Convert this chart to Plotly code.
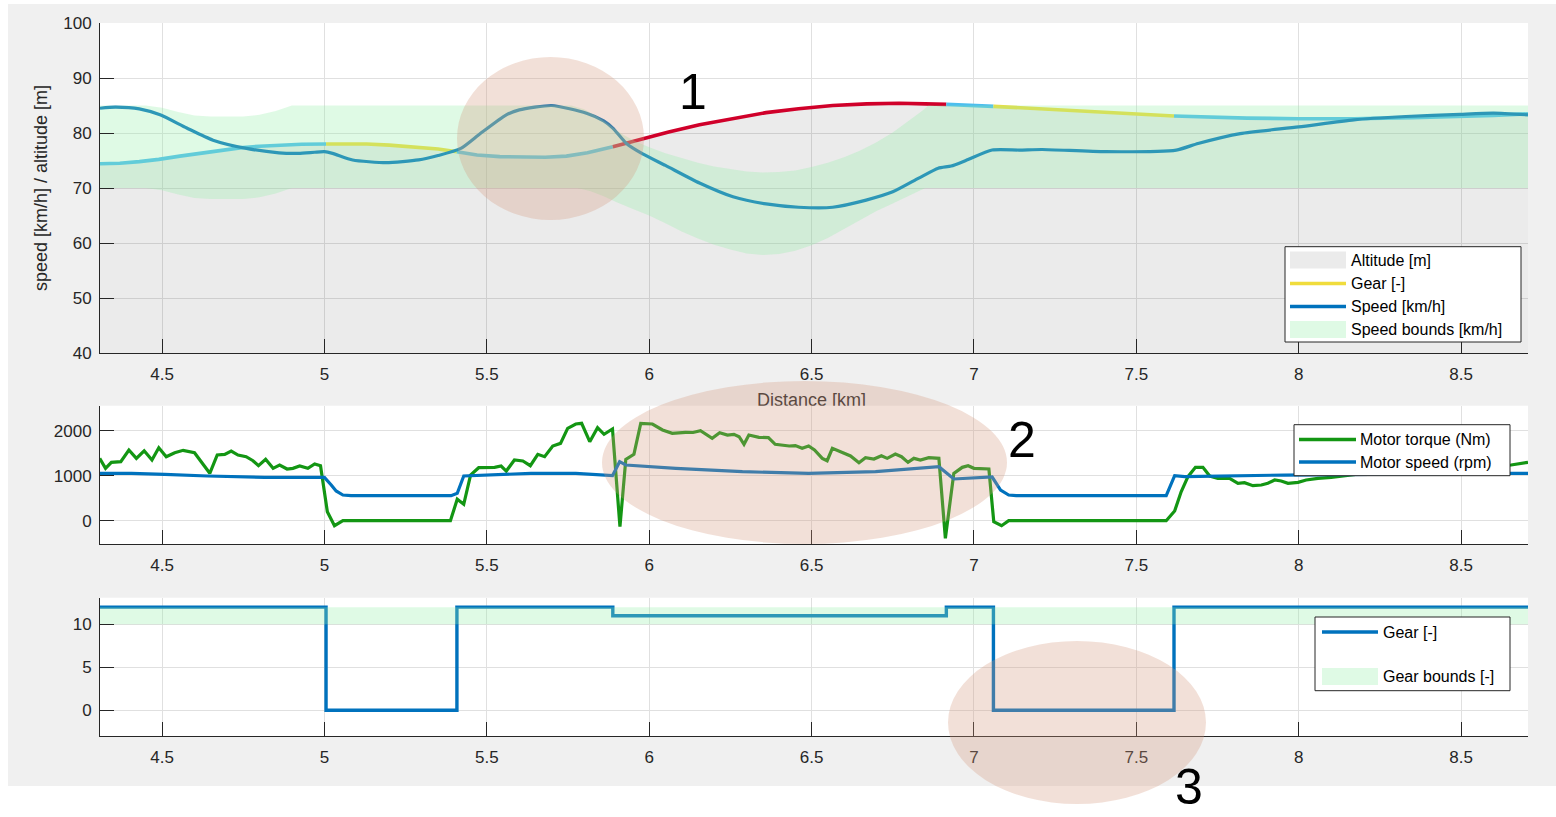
import numpy as np
import plotly.graph_objects as go

W, H = 1556, 817

# ---------------- data ----------------
x_tick_vals = [4.5, 5, 5.5, 6, 6.5, 7, 7.5, 8, 8.5]
x_tick_text = ["4.5", "5", "5.5", "6", "6.5", "7", "7.5", "8", "8.5"]
x_range = [4.309, 8.706]

# gear schedule (step changes along the route)
gear_km = [4.309, 5.005, 5.408, 5.888, 6.915, 7.06, 7.616, 8.706]
gear_val = [12, 0, 12, 11, 12, 0, 12, 12]
gear_bound_km = [4.309, 8.706]
gear_lower = [10, 10]
gear_upper = [12, 12]

# road altitude [m]
alt_km = [4.309, 4.37, 4.43, 4.49, 4.555, 4.615, 4.68, 4.74, 4.80, 4.86, 4.93,
          5.005, 5.07, 5.13, 5.20, 5.28, 5.35, 5.408, 5.47, 5.54, 5.60, 5.68,
          5.745, 5.81, 5.888, 5.94, 5.98, 6.06, 6.155, 6.26, 6.36, 6.46, 6.565,
          6.67, 6.77, 6.85, 6.915, 6.98, 7.06, 7.2, 7.35, 7.5, 7.616, 7.75,
          7.84, 8.0, 8.17, 8.35, 8.5, 8.6, 8.706]
alt_m = [74.4, 74.5, 74.8, 75.2, 75.8, 76.3, 76.9, 77.3, 77.6, 77.8, 77.95,
         78.0, 78.0, 78.0, 77.8, 77.5, 77.1, 76.6, 76.0, 75.7, 75.6, 75.6,
         75.8, 76.4, 77.5, 78.3, 79.0, 80.2, 81.5, 82.7, 83.7, 84.4, 85.0,
         85.3, 85.4, 85.3, 85.2, 85.0, 84.85, 84.4, 84.0, 83.5, 83.1, 82.8,
         82.7, 82.6, 82.6, 82.8, 83.0, 83.2, 83.5]

# vehicle speed [km/h]
speed_km = [4.309, 4.356, 4.43, 4.494, 4.576, 4.657, 4.76, 4.86, 4.92, 4.97,
            5.0, 5.025, 5.087, 5.19, 5.29, 5.35, 5.42, 5.48, 5.56, 5.60, 5.70,
            5.807, 5.86, 5.888, 5.93, 5.98, 6.05, 6.155, 6.258, 6.36, 6.46,
            6.565, 6.668, 6.75, 6.83, 6.89, 6.93, 6.975, 7.056, 7.14, 7.21,
            7.405, 7.623, 7.69, 7.82, 8.0, 8.17, 8.33, 8.497, 8.6, 8.706]
speed_kmh = [84.5, 84.7, 84.4, 83.3, 80.9, 78.7, 77.2, 76.4, 76.3, 76.5,
             76.6, 76.3, 75.1, 74.6, 75.1, 75.9, 77.2, 79.9, 83.3, 84.2, 85.0,
             83.6, 82.2, 80.9, 78.1, 76.2, 74.1, 70.9, 68.4, 67.1, 66.5,
             66.5, 67.8, 69.3, 71.8, 73.6, 74.0, 75.0, 76.9, 76.9, 77.0,
             76.6, 76.9, 78.1, 79.9, 81.1, 82.4, 83.0, 83.4, 83.6, 83.3]

# speed bounds [km/h]
bound_up_km = [4.309, 4.45, 4.5, 4.55, 4.6, 4.65, 4.75, 4.8, 4.85, 4.88, 4.9,
               5.76, 5.80, 5.84, 5.88, 5.92, 5.96, 6.0, 6.05, 6.1, 6.15, 6.2,
               6.25, 6.3, 6.35, 6.4, 6.45, 6.5, 6.55, 6.6, 6.65, 6.7, 6.75,
               6.8, 6.84, 6.86, 8.706]
bound_up = [85, 85, 84.6, 83.8, 83.2, 83.0, 83.0, 83.3, 84.0, 84.6, 85,
            85, 84.3, 83.0, 81.3, 79.7, 78.4, 77.4, 76.3, 75.4, 74.6, 73.9,
            73.4, 73.0, 72.8, 72.9, 73.2, 73.8, 74.6, 75.6, 76.8, 78.3, 80.1,
            82.2, 84.0, 85, 85]
bound_lo_km = [4.309, 4.45, 4.5, 4.55, 4.6, 4.65, 4.75, 4.8, 4.85, 4.88, 4.9,
               5.78, 5.82, 5.86, 5.9, 5.95, 6.0, 6.05, 6.1, 6.15, 6.2, 6.25,
               6.3, 6.35, 6.4, 6.45, 6.5, 6.55, 6.6, 6.65, 6.7, 6.75, 6.8,
               6.85, 8.706]
bound_lo = [70, 70, 69.6, 68.8, 68.2, 68.0, 68.0, 68.3, 69.0, 69.6, 70,
            70, 69.4, 68.5, 67.4, 66.2, 65.0, 63.6, 62.1, 60.8, 59.7, 58.8,
            58.1, 57.8, 58.0, 58.6, 59.6, 60.9, 62.5, 64.2, 65.8, 67.2, 68.6,
            70, 70]

# motor torque [Nm]
torque_km = [4.308, 4.326, 4.344, 4.373, 4.398, 4.421, 4.445, 4.469, 4.49, 4.513,
             4.539, 4.565, 4.6, 4.647, 4.67, 4.693, 4.713, 4.734, 4.759, 4.78,
             4.797, 4.819, 4.842, 4.862, 4.885, 4.903, 4.924, 4.949, 4.97, 4.988,
             5.009, 5.031, 5.057, 5.388, 5.409, 5.429, 5.45, 5.475, 5.524, 5.544,
             5.56, 5.585, 5.611, 5.634, 5.657, 5.678, 5.703, 5.727, 5.749, 5.774,
             5.792, 5.817, 5.841, 5.861, 5.887, 5.91, 5.928, 5.953, 5.974, 6.01,
             6.041, 6.071, 6.112, 6.135, 6.158, 6.194, 6.217, 6.241, 6.261, 6.277,
             6.292, 6.307, 6.338, 6.367, 6.388, 6.431, 6.45, 6.471, 6.491, 6.509,
             6.533, 6.548, 6.564, 6.594, 6.62, 6.646, 6.666, 6.692, 6.715, 6.733,
             6.758, 6.777, 6.797, 6.815, 6.835, 6.861, 6.892, 6.912, 6.938, 6.964,
             6.982, 7.0, 7.03, 7.046, 7.061, 7.085, 7.107, 7.592, 7.618, 7.638,
             7.659, 7.682, 7.705, 7.726, 7.751, 7.787, 7.813, 7.833, 7.859, 7.885,
             7.905, 7.926, 7.946, 7.967, 7.998, 8.023, 8.059, 8.1, 8.2, 8.3,
             8.4, 8.5, 8.6, 8.654, 8.706]
torque_nm = [1386, 1164, 1297, 1311, 1571, 1386, 1555, 1349, 1622, 1422,
             1511, 1564, 1511, 1053, 1460, 1475, 1549, 1460, 1422, 1333,
             1222, 1364, 1164, 1238, 1149, 1164, 1215, 1164, 1260, 1222,
             200, -111, 0, 0, 476, 364, 1015, 1178, 1186, 1215,
             1104, 1349, 1327, 1222, 1475, 1422, 1660, 1719, 2053, 2149,
             2164, 1756, 2067, 1920, 2038, -133, 1364, 1475, 2164, 2149,
             2016, 1942, 1964, 1960, 2000, 1831, 1956, 1904, 1920, 1867,
             1698, 1904, 1853, 1845, 1698, 1660, 1670, 1609, 1660, 1571,
             1386, 1333, 1609, 1520, 1440, 1289, 1400, 1371, 1444, 1386,
             1482, 1422, 1297, 1386, 1349, 1400, 1386, -391, 1053, 1186,
             1222, 1164, 1164, 1149, -22, -111, 0, 0, 216, 644,
             978, 1186, 1186, 993, 942, 942, 831, 844, 778, 793,
             831, 904, 882, 831, 853, 904, 942, 964, 1050, 1100,
             1150, 1190, 1220, 1238, 1297]

# motor speed [rpm]
mspeed_km = [4.303, 4.406, 4.508, 4.64, 4.816, 4.9, 5.0, 5.021, 5.036, 5.057,
             5.082, 5.39, 5.409, 5.429, 5.534, 5.636, 5.774, 5.887, 5.909, 5.928,
             6.082, 6.287, 6.491, 6.697, 6.892, 6.938, 7.056, 7.082, 7.107, 7.13,
             7.592, 7.618, 7.649, 7.956, 8.572, 8.706]
mspeed_rpm = [1053, 1053, 1031, 993, 964, 960, 964, 793, 660, 571,
              556, 556, 609, 993, 1015, 1053, 1053, 1000, 1311, 1238,
              1164, 1089, 1053, 1089, 1200, 927, 971, 682, 571, 556,
              556, 1000, 978, 1015, 1053, 1053]

# ---------------- styling ----------------
FONT = "Liberation Sans, Arial, Helvetica, sans-serif"
AX_COL = "#262626"
GRID_COL = "#e0e0e0"
BLUE = "#0072BD"
GREEN = "#139613"
GEAR_COLORS = {0: "#F0DC3C", 11: "#D0002A", 12: "#4DBEEE"}
ALT_FILL = "rgba(0,0,0,0.078)"
BOUND_FILL = "rgba(150,240,170,0.3)"
MARK_FILL = "rgba(212,152,125,0.3)"

# plot areas in pixels (left, right) / (top, bottom)
PX_X = (100, 1528)
TOP_Y = (23, 353)
MID_Y = (405.7, 544)
BOT_Y = (597.7, 736)


def px(x):
    return x / W


def py(y):
    return 1 - y / H


def ydom(box):
    return [py(box[1]), py(box[0])]


xdom = [px(PX_X[0]), px(PX_X[1])]

fig = go.Figure()

# ---- top: altitude, gear-coloured altitude, speed, speed bounds ----
fig.add_trace(go.Scatter(x=alt_km, y=alt_m, mode="none", fill="tozeroy",
                         fillcolor=ALT_FILL, name="Altitude [m]",
                         xaxis="x", yaxis="y", hoverinfo="skip"))
a_km = np.array(alt_km)
a_m = np.array(alt_m)
for i in range(len(gear_km) - 1):
    lo, hi = gear_km[i], gear_km[i + 1]
    sel = (a_km >= lo - 1e-9) & (a_km <= hi + 1e-9)
    fig.add_trace(go.Scatter(x=a_km[sel], y=a_m[sel], mode="lines",
                             line=dict(color=GEAR_COLORS[gear_val[i]], width=3.6),
                             name="Gear [-]", xaxis="x", yaxis="y",
                             hoverinfo="skip"))
fig.add_trace(go.Scatter(x=speed_km, y=speed_kmh, mode="lines",
                         line=dict(color=BLUE, width=3.2, shape="spline", smoothing=0.6),
                         name="Speed [km/h]", xaxis="x", yaxis="y"))
fig.add_trace(go.Scatter(x=bound_lo_km, y=bound_lo, mode="lines",
                         line=dict(width=0, color=BOUND_FILL),
                         xaxis="x", yaxis="y", hoverinfo="skip"))
fig.add_trace(go.Scatter(x=bound_up_km, y=bound_up, mode="lines",
                         line=dict(width=0, color=BOUND_FILL),
                         fill="tonexty", fillcolor=BOUND_FILL,
                         name="Speed bounds [km/h]", xaxis="x", yaxis="y",
                         hoverinfo="skip"))

# ---- middle: motor torque and motor speed ----
fig.add_trace(go.Scatter(x=torque_km, y=torque_nm, mode="lines",
                         line=dict(color=GREEN, width=3.2),
                         name="Motor torque (Nm)", xaxis="x2", yaxis="y2"))
fig.add_trace(go.Scatter(x=mspeed_km, y=mspeed_rpm, mode="lines",
                         line=dict(color=BLUE, width=3.2),
                         name="Motor speed (rpm)", xaxis="x2", yaxis="y2"))

# ---- bottom: gear and gear bounds ----
fig.add_trace(go.Scatter(x=gear_km, y=gear_val, mode="lines",
                         line=dict(color=BLUE, width=3.4, shape="hv"),
                         name="Gear [-]", xaxis="x3", yaxis="y3"))
fig.add_trace(go.Scatter(x=gear_bound_km, y=gear_lower, mode="lines",
                         line=dict(width=0, color=BOUND_FILL),
                         xaxis="x3", yaxis="y3", hoverinfo="skip"))
fig.add_trace(go.Scatter(x=gear_bound_km, y=gear_upper, mode="lines",
                         line=dict(width=0, color=BOUND_FILL),
                         fill="tonexty", fillcolor=BOUND_FILL,
                         name="Gear bounds [-]", xaxis="x3", yaxis="y3",
                         hoverinfo="skip"))

# x label of the top axes, partly hidden behind the middle axes
fig.add_trace(go.Scatter(x=[6.5], y=[0.10], mode="text", text=["Distance [km]"],
                         textfont=dict(family=FONT, size=18, color=AX_COL),
                         cliponaxis=True, xaxis="x4", yaxis="y4",
                         hoverinfo="skip"))

axis_common = dict(showline=True, linecolor=AX_COL, linewidth=1, mirror=False,
                   ticks="inside", ticklen=14, tickwidth=1, tickcolor=AX_COL,
                   showgrid=True, gridcolor=GRID_COL, gridwidth=1, zeroline=False,
                   tickfont=dict(family=FONT, size=17, color=AX_COL))
xcommon = dict(axis_common, domain=xdom, range=x_range, tickmode="array",
               tickvals=x_tick_vals, ticktext=x_tick_text, ticklabelstandoff=6)

fig.update_layout(
    width=W, height=H,
    margin=dict(l=0, r=0, t=0, b=0, autoexpand=False),
    paper_bgcolor="white",
    plot_bgcolor="rgba(0,0,0,0)",
    showlegend=False,
    xaxis=dict(xcommon, anchor="y"),
    yaxis=dict(axis_common, domain=ydom(TOP_Y), anchor="x", range=[40, 100],
               tickmode="array", tickvals=[40, 50, 60, 70, 80, 90, 100],
               ticklabelstandoff=4,
               title=dict(text="speed [km/h] / altitude [m]", standoff=10,
                          font=dict(family=FONT, size=18, color=AX_COL))),
    xaxis2=dict(xcommon, anchor="y2"),
    yaxis2=dict(axis_common, domain=ydom(MID_Y), anchor="x2", range=[-518, 2556],
                tickmode="array", tickvals=[0, 1000, 2000], ticklabelstandoff=4),
    xaxis3=dict(xcommon, anchor="y3"),
    yaxis3=dict(axis_common, domain=ydom(BOT_Y), anchor="x3", range=[-3, 13.1],
                tickmode="array", tickvals=[0, 5, 10], ticklabelstandoff=4),
    xaxis4=dict(domain=xdom, anchor="y4", range=x_range, visible=False),
    yaxis4=dict(domain=[py(405.7), py(360)], anchor="x4", range=[0, 1], visible=False),
)

shapes = []
# figure panel and white axes backgrounds
shapes.append(dict(type="rect", xref="paper", yref="paper", x0=px(8), x1=1,
                   y0=py(786), y1=py(4), fillcolor="#f0f0f0", line=dict(width=0),
                   layer="below"))
for box in (TOP_Y, MID_Y, BOT_Y):
    shapes.append(dict(type="rect", xref="paper", yref="paper",
                       x0=px(PX_X[0]), x1=px(PX_X[1]), y0=py(box[1]), y1=py(box[0]),
                       fillcolor="white", line=dict(width=0), layer="below"))

# highlighted regions
for cx, cy, rx, ry in [(550.5, 138.5, 93.5, 81.5), (804.5, 462.5, 202.5, 81.5),
                       (1077, 722.5, 129, 81.5)]:
    shapes.append(dict(type="circle", xref="paper", yref="paper",
                       x0=px(cx - rx), x1=px(cx + rx), y0=py(cy + ry), y1=py(cy - ry),
                       fillcolor=MARK_FILL, line=dict(width=0), layer="above"))

annotations = []


def add_legend(box, entries, sym_x, text_x):
    x0, y0, x1, y1 = box
    shapes.append(dict(type="rect", xref="paper", yref="paper",
                       x0=px(x0), x1=px(x1), y0=py(y1), y1=py(y0),
                       fillcolor="white", line=dict(color=AX_COL, width=1),
                       layer="above"))
    for kind, color, label, yc in entries:
        if kind == "line":
            shapes.append(dict(type="line", xref="paper", yref="paper",
                               x0=px(sym_x[0]), x1=px(sym_x[1]), y0=py(yc), y1=py(yc),
                               line=dict(color=color, width=3.6), layer="above"))
        else:
            shapes.append(dict(type="rect", xref="paper", yref="paper",
                               x0=px(sym_x[0]), x1=px(sym_x[1]),
                               y0=py(yc + 8.5), y1=py(yc - 8.5),
                               fillcolor=color, line=dict(width=0), layer="above"))
        annotations.append(dict(x=px(text_x), y=py(yc), xref="paper", yref="paper",
                                text=label, showarrow=False, xanchor="left",
                                yanchor="middle",
                                font=dict(family=FONT, size=16, color="black")))


add_legend((1285, 246.7, 1521, 342),
           [("box", ALT_FILL, "Altitude [m]", 260),
            ("line", GEAR_COLORS[0], "Gear [-]", 283.5),
            ("line", BLUE, "Speed [km/h]", 306.5),
            ("box", BOUND_FILL, "Speed bounds [km/h]", 329.5)],
           (1290, 1346), 1349)
add_legend((1294, 424.7, 1510, 475.7),
           [("line", GREEN, "Motor torque (Nm)", 439.5),
            ("line", BLUE, "Motor speed (rpm)", 462)],
           (1299, 1356), 1358)
add_legend((1315, 617, 1510, 690.7),
           [("line", BLUE, "Gear [-]", 632),
            ("box", BOUND_FILL, "Gear bounds [-]", 676.5)],
           (1322, 1378), 1381)

# region numbers
for label, x, y, anchor in [("1", 693, 92, "middle"), ("2", 1022, 440, "middle"),
                            ("3", 1189, 817, "bottom")]:
    annotations.append(dict(x=px(x), y=py(y), xref="paper", yref="paper", text=label,
                            showarrow=False, xanchor="center", yanchor=anchor,
                            font=dict(family=FONT, size=50, color="black")))

fig.update_layout(shapes=shapes, annotations=annotations)

fig.write_html("out.html")
